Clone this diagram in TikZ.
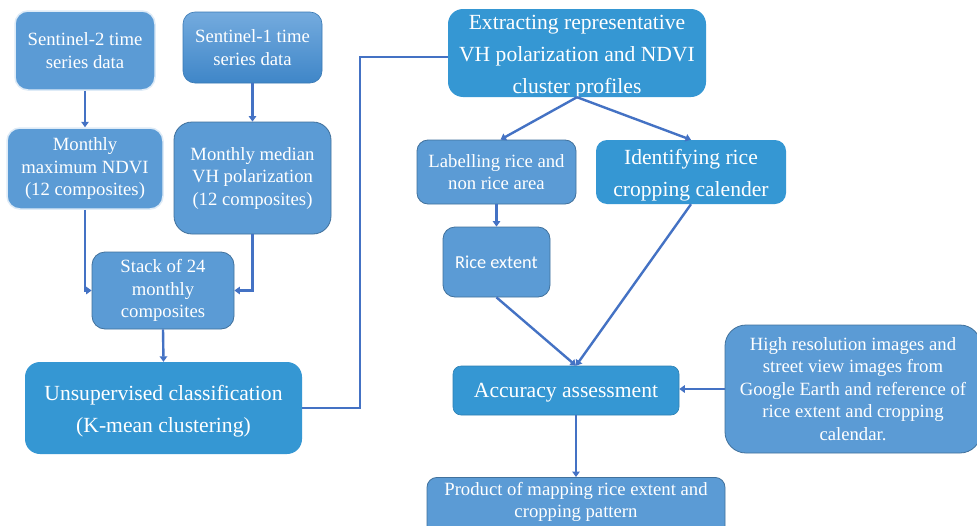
\documentclass[tikz,border=0pt]{standalone}
\usepackage{fontspec}
\setmainfont{Liberation Serif}
\newfontfamily\calibri{Carlito}
\usetikzlibrary{arrows.meta}
\definecolor{medblue}{HTML}{5B9BD5}
\definecolor{brblue}{HTML}{3597D3}
\definecolor{edgeblue}{HTML}{41719C}
\definecolor{lineblue}{HTML}{4472C4}
\definecolor{gtop}{HTML}{74ABDE}
\definecolor{gbot}{HTML}{3F86C8}
\tikzset{
  base/.style={align=center, text=white, inner sep=2pt,
    font=\fontsize{18.7}{22.5}\selectfont},
  bigfont/.style={font=\fontsize{21.6}{32}\selectfont},
  mbox/.style={base, fill=medblue, draw=edgeblue, line width=0.8pt},
  wbox/.style={base, fill=medblue, draw=white!80!medblue, line width=1.5pt},
  bbox/.style={base, bigfont, fill=brblue},
  btext/.style={base, bigfont},
  gbox/.style={base, top color=gtop, bottom color=gbot, draw=gbot!90!black, line width=0.6pt},
  conn/.style={draw=lineblue, line width=2.4pt, -{Triangle[width=7.5pt,length=5.5pt]}},
  plain/.style={draw=lineblue, line width=2.4pt},
}
\begin{document}
\begin{tikzpicture}[x=1pt,y=-1pt]
\useasboundingbox (0,0) rectangle (977,525);
\clip (0,0) rectangle (977,525);
\fill[white] (0,0) rectangle (977,525);

\node[wbox, minimum width=140pt, minimum height=79pt, rounded corners=13pt] (s2) at (85,50.5) {Sentinel-2 time\\series data};
\node[gbox, minimum width=139pt, minimum height=71pt, rounded corners=12pt] (s1) at (252.5,47.5) {Sentinel-1 time\\series data};
\node[wbox, minimum width=156pt, minimum height=81pt, rounded corners=13pt] (ndvi) at (85,168.5) {Monthly\\maximum NDVI\\(12 composites)};
\node[mbox, minimum width=157pt, minimum height=112pt, rounded corners=18pt] (vh) at (252.5,178) {Monthly median\\VH polarization\\(12 composites)};
\node[mbox, minimum width=142pt, minimum height=77pt, rounded corners=13pt] (stack) at (163,290.5) {Stack of 24\\monthly\\composites};

\node[bbox, minimum width=277pt, minimum height=92pt, rounded corners=15pt] (unsup) at (163.5,408) {};
\node[btext] (unsupT) at ([yshift=-3.5pt]unsup.center) {Unsupervised classification\\(K-mean clustering)};

\node[bbox, minimum width=258pt, minimum height=88pt, rounded corners=15pt] (extr) at (577,53) {};
\node[btext] (extrT) at ([yshift=-3.5pt]extr.center) {Extracting representative\\VH polarization and NDVI\\cluster profiles};

\node[mbox, minimum width=159pt, minimum height=64pt, rounded corners=11pt] (label) at (496.5,172) {Labelling rice and\\non rice area};

\node[bbox, minimum width=190pt, minimum height=64pt, rounded corners=11pt] (ident) at (691,172) {};
\node[btext] (identT) at ([yshift=-3.5pt]ident.center) {Identifying rice\\cropping calender};

\node[mbox, minimum width=107pt, minimum height=70pt, rounded corners=12pt, font=\calibri\fontsize{18.3}{22}\selectfont] (rice) at (496.5,262) {Rice extent};

\node[bbox, minimum width=226pt, minimum height=49pt, rounded corners=8pt, draw=brblue!85!black, line width=0.6pt] (acc) at (566,390.5) {};
\node[btext] (accT) at ([yshift=-2.5pt]acc.center) {Accuracy assessment};

\node[mbox, minimum width=256pt, minimum height=128pt, rounded corners=21pt] (high) at (853,389) {High resolution images and\\street view images from\\Google Earth and reference of\\rice extent and cropping\\calendar.};

\node[mbox, minimum width=298pt, minimum height=64pt, rounded corners=10pt, anchor=north] (prod) at (576,477) {};
\node[base] (prodT) at (576,502) {Product of mapping rice extent and\\cropping pattern};

\draw[conn] (s2.south) -- (ndvi.north);
\draw[conn] (s1.south) -- (vh.north);
\draw[conn] (ndvi.south) |- (stack.west);
\draw[conn] (vh.south) |- (stack.east);
\draw[conn] (stack.south) -- (unsup.north);
\coordinate (bend) at (360,57);
\draw[plain] (unsup.east) -| (bend) -- (bend -| extr.west);
\draw[conn] (extr.south) -- ([xshift=4pt]label.north);
\draw[conn] (extr.south) -- (ident.north);
\draw[conn] (label.south) -- (rice.north);
\draw[conn] (rice.south) -- ([xshift=10pt]acc.north);
\draw[conn] (ident.south) -- ([xshift=10pt]acc.north);
\draw[conn] (high.west) -- (high.west -| acc.east);
\draw[conn] ([xshift=10pt]acc.south) -- (prod.north);
\end{tikzpicture}
\end{document}
